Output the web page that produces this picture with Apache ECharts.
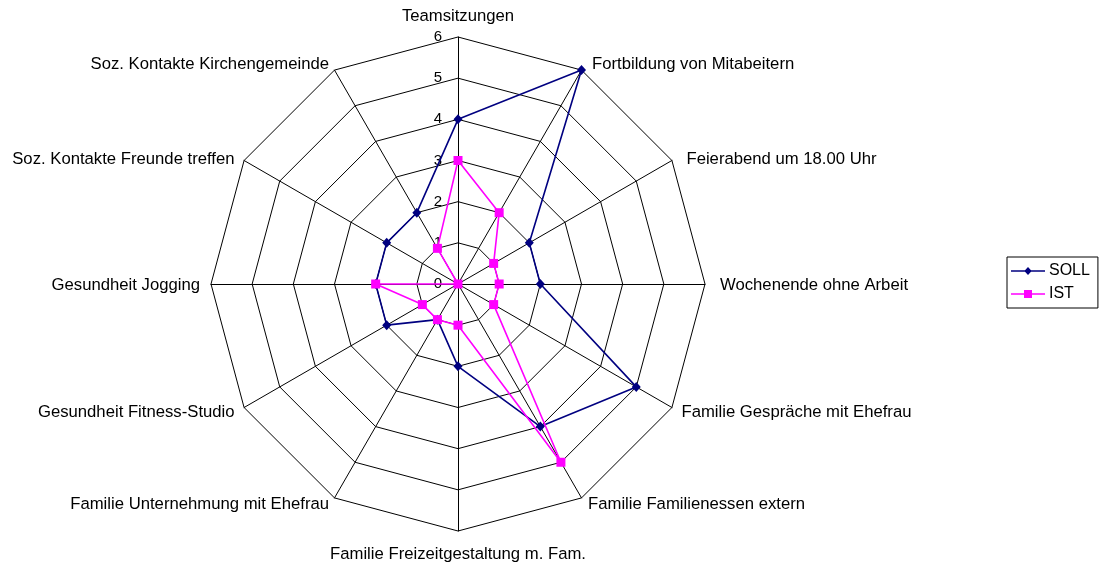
<!DOCTYPE html>
<html>
<head>
<meta charset="utf-8">
<script src="https://cdn.jsdelivr.net/npm/echarts@6/dist/echarts.min.js"></script>
<style>
html,body{margin:0;padding:0;background:#fff;}
#chart{width:1101px;height:566px;}
</style>
</head>
<body>
<div id="chart"></div>
<script>
// Categories in clockwise order starting from the top
var categories = [
  'Teamsitzungen',
  'Fortbildung von Mitabeitern',
  'Feierabend um 18.00 Uhr',
  'Wochenende ohne Arbeit',
  'Familie Gespräche mit Ehefrau',
  'Familie Familienessen extern',
  'Familie Freizeitgestaltung m. Fam.',
  'Familie Unternehmung mit Ehefrau',
  'Gesundheit Fitness-Studio',
  'Gesundheit Jogging',
  'Soz. Kontakte Freunde treffen',
  'Soz. Kontakte Kirchengemeinde'
];
var sollValues = [4, 6, 2, 2, 5, 4, 2, 1, 2, 2, 2, 2];
var istValues  = [3, 2, 1, 1, 1, 5, 1, 1, 1, 2, 0, 1];
var axisMax = 6;
var axisTicks = ['0', '1', '2', '3', '4', '5', '6'];

var FONT = 'Liberation Sans, Arial, sans-serif';
// fine label nudges (style only), clockwise order: [dx, dy]
var labelNudge = [[0,-1],[5,4],[5,4],[4,1],[0,-1],[1,-3],[0,4],[0,-3],[0,-1],[0,1],[0,4],[0,4]];

// ECharts lays indicators out counter-clockwise; reorder so they run clockwise.
function cwIndex(n) { var out = [0]; for (var i = n - 1; i >= 1; i--) out.push(i); return out; }
var order = cwIndex(categories.length);
function cw(arr) { return order.map(function (k) { return arr[k]; }); }

var rich = {};
categories.forEach(function (c, k) {
  var dx = labelNudge[k][0], dy = labelNudge[k][1];
  var n = categories.length;
  var pad = [0, 0, 0, 0];
  if (k === 0) { if (dy < 0) pad[2] = -dy; }
  else if (k === n / 2) { if (dy > 0) pad[0] = dy; }
  else {
    if (dy > 0) pad[0] = 2 * dy; else if (dy < 0) pad[2] = -2 * dy;
    if (k < n / 2) { if (dx > 0) pad[3] = dx; }
    else { if (dx < 0) pad[1] = -dx; }
  }
  rich['n' + k] = { color: '#000', fontSize: 16.7, fontFamily: FONT, padding: pad };
});

var tickLabelStyle = {
  color: '#000', fontSize: 15, margin: 16, fontFamily: FONT,
  formatter: function (v) { var t = axisTicks[Math.round(v)]; return t != null ? t : String(v); }
};

var indicators = cw(categories).map(function (name, i) {
  var ind = { name: name, max: axisMax, min: 0 };
  if (i === 0) ind.axisLabel = Object.assign({ show: true }, tickLabelStyle);
  return ind;
});

var sollIcon = 'path://M0,3.3L14,3.3L17,0L20,3.3L34,3.3L34,4.7L20,4.7L17,8L14,4.7L0,4.7Z';
var istIcon  = 'path://M0,3.3L13,3.3L13,0L21,0L21,3.3L34,3.3L34,4.7L21,4.7L21,8L13,8L13,4.7L0,4.7Z';

var chart = echarts.init(document.getElementById('chart'), null, { renderer: 'canvas' });
chart.setOption({
  animation: false,
  backgroundColor: '#fff',
  textStyle: { fontFamily: FONT },
  legend: {
    orient: 'vertical', left: 1007, top: 257, padding: [6, 8, 6, 4], itemGap: 7,
    itemWidth: 34, itemHeight: 8, borderColor: '#000', borderWidth: 1,
    textStyle: { color: '#000', fontSize: 16, fontFamily: FONT, padding: [0, 0, 0, -1] },
    data: [ { name: 'SOLL', icon: sollIcon }, { name: 'IST', icon: istIcon } ]
  },
  radar: {
    center: [458, 284], radius: 247, startAngle: 90, shape: 'polygon', splitNumber: 6, nameGap: 11,
    axisName: {
      color: '#000', fontSize: 16.7, fontFamily: FONT,
      formatter: function (name) { return '{n' + categories.indexOf(name) + '|' + name + '}'; },
      rich: rich
    },
    axisLabel: Object.assign({ show: false }, tickLabelStyle),
    axisLine: { show: true, lineStyle: { color: '#000', width: 1 } },
    splitLine: { show: true, lineStyle: { color: '#000', width: 1 } },
    splitArea: { show: false },
    axisTick: { show: false },
    indicator: indicators
  },
  series: [{
    type: 'radar',
    data: [
      { name: 'SOLL', value: cw(sollValues), symbol: 'diamond', symbolSize: [9, 10],
        lineStyle: { color: '#000080', width: 1.6 }, itemStyle: { color: '#000080' } },
      { name: 'IST', value: cw(istValues), symbol: 'rect', symbolSize: 9,
        lineStyle: { color: '#FF00FF', width: 1.6 }, itemStyle: { color: '#FF00FF' } }
    ]
  }]
});
</script>
</body>
</html>
